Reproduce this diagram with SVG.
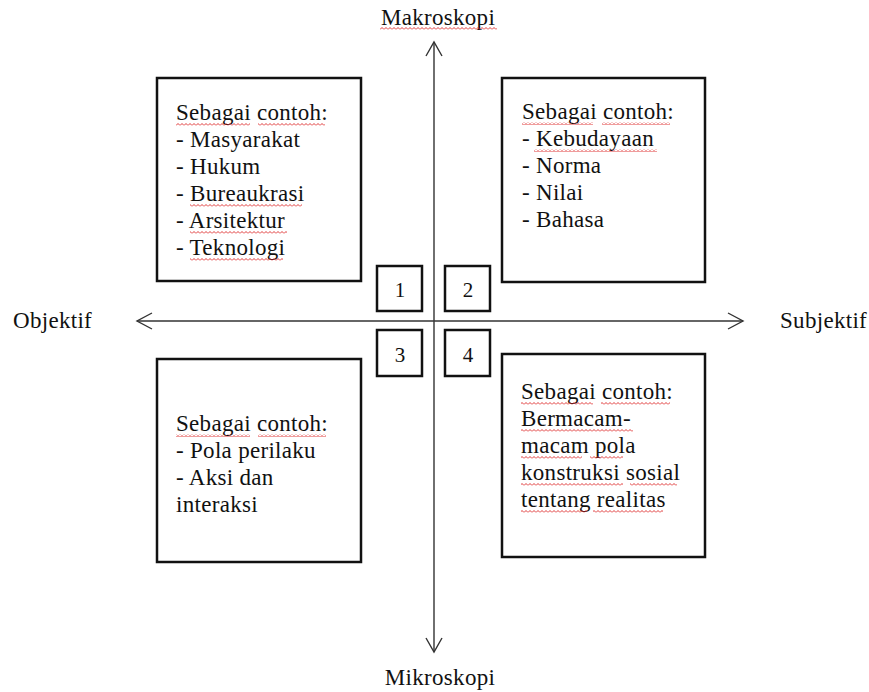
<svg xmlns="http://www.w3.org/2000/svg" width="869" height="692" viewBox="0 0 869 692">
<defs>
<pattern id="wavy" patternUnits="userSpaceOnUse" x="0" y="0" width="4" height="3">
<path d="M0 2.5 L2 0.5 L4 2.5" fill="none" stroke="#d22" stroke-width="0.9"/>
</pattern>
</defs>
<style>
text{font-family:"Liberation Serif","Times New Roman",serif;font-size:23px;letter-spacing:0.3px;fill:#111}
.box{fill:#fff;stroke:#111;stroke-width:2.5}
.axis{stroke:#333;stroke-width:1.4;fill:none}
.num{font-size:21px;text-anchor:middle;letter-spacing:0}
.sp{fill:url(#wavy)}
</style>
<rect width="869" height="692" fill="#fff"/>
<g id="connectors">
<line class="axis" x1="434" y1="42" x2="434" y2="652"/>
<line class="axis" x1="137" y1="321" x2="743" y2="321"/>
<polyline class="axis" points="426,56 434,42 442,56"/>
<polyline class="axis" points="426,638 434,652 442,638"/>
<polyline class="axis" points="152,313 137,321 152,329"/>
<polyline class="axis" points="728,313 743,321 728,329"/>
</g>
<g id="label-makro"><text x="438" y="25" text-anchor="middle">Makroskopi</text><rect class="sp" x="380" y="27" width="117" height="3"/></g>
<g id="label-mikro"><text x="440" y="685" text-anchor="middle">Mikroskopi</text></g>
<g id="label-obj"><text x="13" y="328">Objektif</text></g>
<g id="label-subj"><text x="780" y="328">Subjektif</text></g>
<g id="box-tl">
<rect class="box" x="157" y="78" width="204" height="203"/>
<text x="176" y="120">Sebagai contoh:</text>
<text x="176" y="147">- Masyarakat</text>
<text x="176" y="174">- Hukum</text>
<text x="176" y="201">- Bureaukrasi</text>
<text x="176" y="228">- Arsitektur</text>
<text x="176" y="255">- Teknologi</text>
<rect class="sp" x="176" y="123" width="74" height="3"/>
<rect class="sp" x="258" y="123" width="67" height="3"/>
<rect class="sp" x="190" y="204" width="112" height="3"/>
<rect class="sp" x="190" y="231" width="97" height="3"/>
<rect class="sp" x="190" y="258" width="93" height="3"/>
</g>
<g id="box-tr">
<rect class="box" x="502" y="78" width="203" height="204"/>
<text x="522" y="119">Sebagai contoh:</text>
<text x="522" y="146">- Kebudayaan</text>
<text x="522" y="173">- Norma</text>
<text x="522" y="200">- Nilai</text>
<text x="522" y="227">- Bahasa</text>
<rect class="sp" x="522" y="122" width="71" height="3"/>
<rect class="sp" x="602" y="122" width="68" height="3"/>
<rect class="sp" x="534" y="149" width="123" height="3"/>
</g>
<g id="box-bl">
<rect class="box" x="157" y="359" width="204" height="203"/>
<text x="176" y="431">Sebagai contoh:</text>
<text x="176" y="458">- Pola perilaku</text>
<text x="176" y="485">- Aksi dan</text>
<text x="176" y="512">interaksi</text>
<rect class="sp" x="176" y="434" width="74" height="3"/>
<rect class="sp" x="258" y="434" width="68" height="3"/>
</g>
<g id="box-br">
<rect class="box" x="502" y="354" width="203" height="203"/>
<text x="521" y="399">Sebagai contoh:</text>
<text x="521" y="426">Bermacam-</text>
<text x="521" y="453">macam pola</text>
<text x="521" y="480">konstruksi sosial</text>
<text x="521" y="507">tentang realitas</text>
<rect class="sp" x="521" y="402" width="72" height="3"/>
<rect class="sp" x="601" y="402" width="69" height="3"/>
<rect class="sp" x="521" y="429" width="112" height="3"/>
<rect class="sp" x="521" y="456" width="61" height="3"/>
<rect class="sp" x="590" y="456" width="33" height="3"/>
<rect class="sp" x="521" y="483" width="102" height="3"/>
<rect class="sp" x="630" y="483" width="47" height="3"/>
<rect class="sp" x="521" y="510" width="66" height="3"/>
<rect class="sp" x="593" y="510" width="70" height="3"/>
</g>
<g id="n1"><rect class="box" x="377" y="266" width="45" height="45"/><text class="num" x="400" y="297">1</text></g>
<g id="n2"><rect class="box" x="445" y="266" width="45" height="45"/><text class="num" x="468" y="297">2</text></g>
<g id="n3"><rect class="box" x="377" y="330" width="45" height="46"/><text class="num" x="400" y="362">3</text></g>
<g id="n4"><rect class="box" x="445" y="330" width="45" height="46"/><text class="num" x="468" y="362">4</text></g>
</svg>
